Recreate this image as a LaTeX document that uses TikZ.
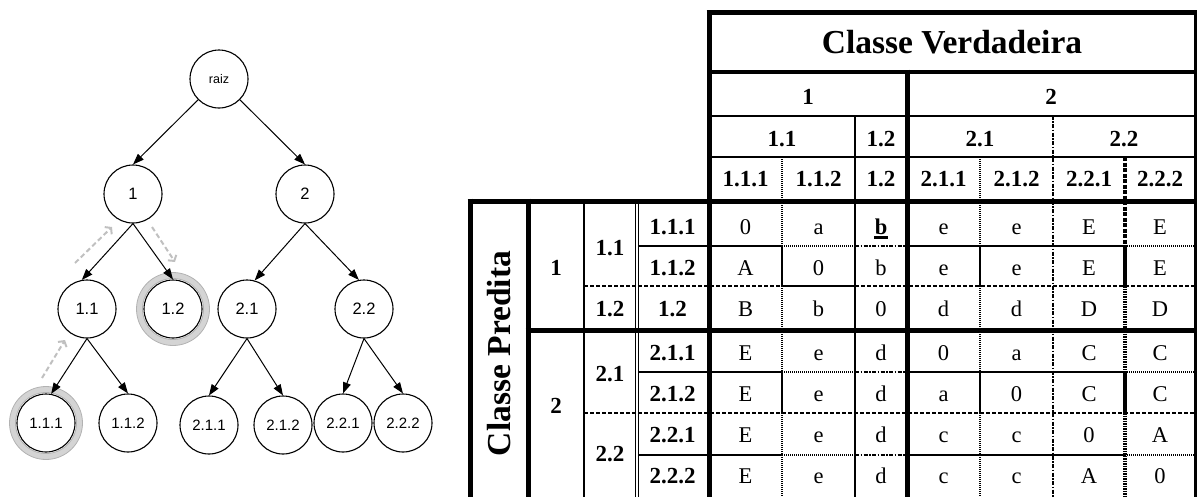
\documentclass[tikz,border=0pt]{standalone}
\usepackage{fontspec}
\setmainfont{Liberation Serif}
\newfontfamily\arialf{Liberation Sans}
\usetikzlibrary{arrows.meta,calc}
\definecolor{ringc}{RGB}{212,212,212}
\definecolor{ringe}{RGB}{178,178,178}
\definecolor{garrow}{RGB}{192,192,192}
\begin{document}
\begin{tikzpicture}[x=1pt,y=-1pt,
  tnode/.style={circle,draw,line width=1.1pt,minimum size=58pt,inner sep=0pt,font=\arialf\fontsize{16.5}{18}\selectfont},
  tsmall/.style={font=\arialf\fontsize{15}{17}\selectfont},
  tedge/.style={line width=1pt,-{Triangle[length=11pt,width=8pt]}},
  gedge/.style={draw=garrow,line width=2pt,dash pattern=on 5pt off 3pt,-{Straight Barb[length=4pt,width=10pt]}},
  ringline/.style={draw=ringc,line width=6pt},
  ringedge/.style={draw=ringe,line width=0.8pt},
  thickln/.style={line width=5pt},
  thinln/.style={line width=2pt},
  dotln/.style={line width=2pt,dash pattern=on 1pt off 1pt},
  dashln/.style={line width=2pt,dash pattern=on 4pt off 2pt},
  ddotln/.style={line width=2pt,dash pattern=on 4pt off 1.5pt on 1.5pt off 1.5pt},
  tdashln/.style={line width=4pt,dash pattern=on 4pt off 1.5pt},
  tdotln/.style={line width=4pt,dash pattern=on 1.5pt off 1pt},
  ttl/.style={font=\bfseries\fontsize{33.5}{36}\selectfont,anchor=base,inner sep=0pt},
  hdr/.style={font=\bfseries\fontsize{23}{26}\selectfont,anchor=base,inner sep=0pt},
  dat/.style={font=\fontsize{22.5}{25}\selectfont,anchor=base,inner sep=0pt}]
\useasboundingbox (0,0) rectangle (1198,496);

% ---------------- tree ----------------
\node[tnode,font=\arialf\fontsize{12.5}{14}\selectfont] (raiz) at (219,79) {raiz};
\node[tnode] (n1) at (133,194) {1};
\node[tnode] (n2) at (305,194) {2};
\node[tnode] (n11) at (87,309) {1.1};
\node[tnode] (n12) at (173,309) {1.2};
\node[tnode] (n21) at (247,309) {2.1};
\node[tnode] (n22) at (364,309) {2.2};
\node[tnode,tsmall] (n111) at (46,423) {1.1.1};
\node[tnode,tsmall] (n112) at (128,423) {1.1.2};
\node[tnode,tsmall] (n211) at (209,425) {2.1.1};
\node[tnode,tsmall] (n212) at (283,425) {2.1.2};
\node[tnode,tsmall] (n221) at (343,423) {2.2.1};
\node[tnode,tsmall] (n222) at (403,423) {2.2.2};

\foreach \n in {n12,n111}{
  \draw[ringline] (\n.center) circle[radius=33.5];
  \draw[ringedge] (\n.center) circle[radius=36.5];
  \draw[ringedge] (\n.center) circle[radius=30.5];
}

\draw[tedge] (raiz) -- (n1.north);
\draw[tedge] (raiz) -- (n2.north);
\draw[tedge] (n1.south) -- (n11.100);
\draw[tedge] (n1.south) -- (n12.north);
\draw[tedge] (n2.south) -- (n21.75);
\draw[tedge] (n2.south) -- (n22.100);
\draw[tedge] (n11.south) -- (n111.80);
\draw[tedge] (n11.south) -- (n112.north);
\draw[tedge] (n21.south) -- (n211.north);
\draw[tedge] (n21.south) -- (n212.north);
\draw[tedge] (n22.south) -- (n221.north);
\draw[tedge] (n22.south) -- (n222.north);

\coordinate (g1a) at (75,263);  \coordinate (g1b) at (112,227);
\coordinate (g2a) at (152,227); \coordinate (g2b) at (175,262);
\coordinate (g3a) at (42,378);  \coordinate (g3b) at (65,340);
\draw[gedge] (g1a) -- (g1b);
\draw[gedge] (g2a) -- (g2b);
\draw[gedge] (g3a) -- (g3b);

% ---------------- table lines ----------------
% header horizontals
\draw[thickln] (706.5,12.5) -- (1196.5,12.5);
\draw[line width=4pt] (709,71.5) -- (1195,71.5);
\draw[thinln] (709,115.5) -- (1195,115.5);
\draw[thinln] (709,157) -- (1195,157);
\draw[thickln] (467.5,201) -- (1196.5,201);
% main verticals
\draw[thickln] (709,10) -- (709,497);
\draw[line width=3pt] (1195,10) -- (1195,497);
\draw[thickln] (907,69.5) -- (907,497);
\draw[thinln] (855,115.5) -- (855,497);
\draw[ddotln] (1053,115.5) -- (1053,497);
% dotted/solid verticals between leaf columns
\foreach \xx in {782,980}{
  \draw[dotln] (\xx,157) -- (\xx,246);
  \draw[thinln] (\xx,246) -- (\xx,286);
  \draw[dotln] (\xx,286) -- (\xx,372);
  \draw[thinln] (\xx,372) -- (\xx,413);
  \draw[dotln] (\xx,413) -- (\xx,497);
}
\draw[tdashln] (1125,157) -- (1125,246);
\draw[line width=4pt] (1125,246) -- (1125,286);
\draw[tdotln] (1125,286) -- (1125,372);
\draw[line width=4pt] (1125,372) -- (1125,413);
\draw[tdotln] (1125,413) -- (1125,497);
% label verticals
\draw[thickln] (470,198.5) -- (470,497);
\draw[thickln] (528,198.5) -- (528,497);
\draw[thinln] (584,201) -- (584,497);
\draw[line width=1pt] (635.5,201) -- (635.5,497);
\draw[line width=1pt] (638.5,201) -- (638.5,497);
% body horizontals
\foreach \yy in {246,372,455}{
  \draw[line width=2.5pt] (639,\yy) -- (707,\yy);
  \draw[thinln] (711,\yy) -- (782,\yy);
  \draw[dotln] (782,\yy) -- (855,\yy);
  \draw[ddotln] (855,\yy) -- (907,\yy);
  \draw[thinln] (907,\yy) -- (1125,\yy);
  \draw[dotln] (1125,\yy) -- (1195,\yy);
}
\draw[dashln] (584,286) -- (782,286);
\draw[thinln] (782,286) -- (855,286);
\draw[dashln] (855,286) -- (1195,286);
\draw[thickln] (525.5,330) -- (1196.5,330);
\draw[dashln] (584,413) -- (1195,413);

% ---------------- header text ----------------
\node[ttl] (cv) at (952,53.5) {Classe Verdadeira};
\node[hdr] (hA) at (808,104) {1};
\node[hdr] (hB) at (1051,104) {2};
\node[hdr] (hA1) at (782,146) {1.1};
\node[hdr] (hA2) at (881,146) {1.2};
\node[hdr] (hB1) at (980,146) {2.1};
\node[hdr] (hB2) at (1124,146) {2.2};
\foreach \c/\xc/\t in {1/745.5/1.1.1,2/818.5/1.1.2,3/881/1.2,4/943.5/2.1.1,5/1016.5/2.1.2,6/1089/2.2.1,7/1160/2.2.2}
  \node[hdr] (hl\c) at (\xc,186) {\t};

% ---------------- row labels ----------------
\node[ttl,rotate=90] (cp) at (510,353.5) {Classe Predita};
\node[hdr] (rA) at (556,275) {1};
\node[hdr] (rB) at (556,413.5) {2};
\node[hdr] (rA1) at (610,255) {1.1};
\node[hdr] (rA2) at (610,316.5) {1.2};
\node[hdr] (rB1) at (610,381.5) {2.1};
\node[hdr] (rB2) at (610,461.5) {2.2};
\foreach \r/\yb/\t in {1/234/1.1.1,2/275/1.1.2,3/316/1.2,4/360/2.1.1,5/401/2.1.2,6/442.5/2.2.1,7/483/2.2.2}
  \node[hdr] (rl\r) at (672.5,\yb) {\t};

% ---------------- data ----------------
\foreach \c/\xc/\v in {1/745.5/0,2/818.5/a,3/881/{\textbf{b}},4/943.5/e,5/1016.5/e,6/1089/E,7/1160/E}
  \node[dat] (d1\c) at (\xc,234) {\v};
\foreach \c/\xc/\v in {1/745.5/A,2/818.5/0,3/881/b,4/943.5/e,5/1016.5/e,6/1089/E,7/1160/E}
  \node[dat] (d2\c) at (\xc,275) {\v};
\foreach \c/\xc/\v in {1/745.5/B,2/818.5/b,3/881/0,4/943.5/d,5/1016.5/d,6/1089/D,7/1160/D}
  \node[dat] (d3\c) at (\xc,316) {\v};
\foreach \c/\xc/\v in {1/745.5/E,2/818.5/e,3/881/d,4/943.5/0,5/1016.5/a,6/1089/C,7/1160/C}
  \node[dat] (d4\c) at (\xc,360) {\v};
\foreach \c/\xc/\v in {1/745.5/E,2/818.5/e,3/881/d,4/943.5/a,5/1016.5/0,6/1089/C,7/1160/C}
  \node[dat] (d5\c) at (\xc,401) {\v};
\foreach \c/\xc/\v in {1/745.5/E,2/818.5/e,3/881/d,4/943.5/c,5/1016.5/c,6/1089/0,7/1160/A}
  \node[dat] (d6\c) at (\xc,442.5) {\v};
\foreach \c/\xc/\v in {1/745.5/E,2/818.5/e,3/881/d,4/943.5/c,5/1016.5/c,6/1089/A,7/1160/0}
  \node[dat] (d7\c) at (\xc,483) {\v};
\draw[line width=2.5pt] ($(d13.base)+(-7,3.5)$) -- ($(d13.base)+(7,3.5)$);
\end{tikzpicture}
\end{document}
